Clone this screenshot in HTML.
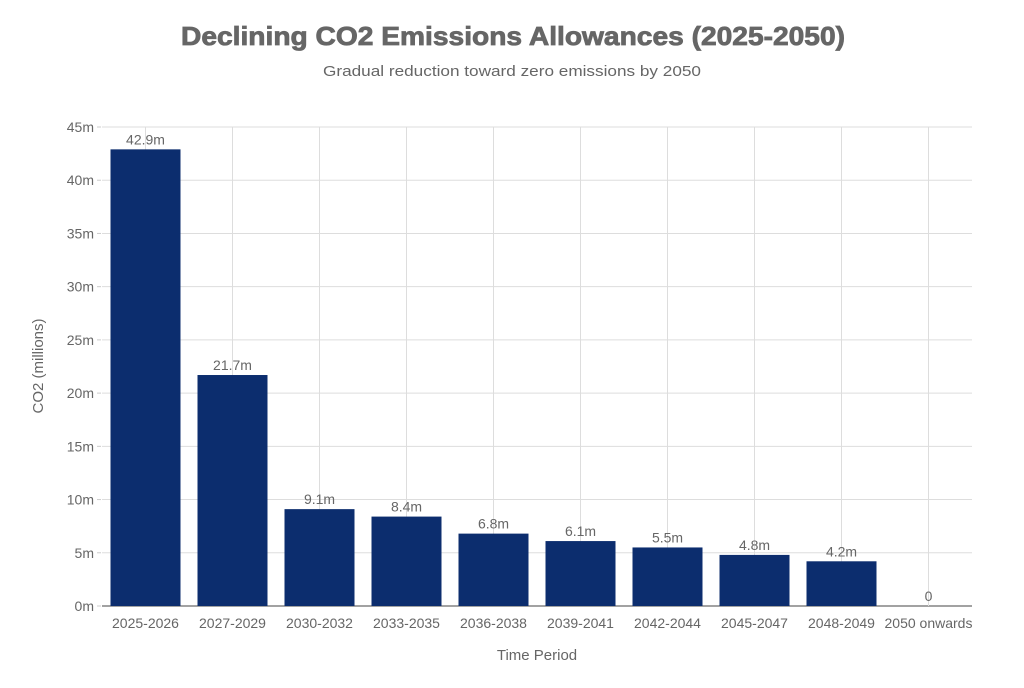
<!DOCTYPE html>
<html><head><meta charset="utf-8"><style>
body{margin:0;background:#fff;width:1024px;height:683px;overflow:hidden;font-family:"Liberation Sans",sans-serif}
</style></head><body>
<svg id="chart" width="1024" height="683">
<text x="181" y="45" textLength="664" lengthAdjust="spacingAndGlyphs" font-size="26" font-weight="900" fill="#666" stroke="#666" stroke-width="0.8">Declining CO2 Emissions Allowances (2025-2050)</text>
<text x="323" y="76" textLength="378" lengthAdjust="spacingAndGlyphs" font-size="15" fill="#666">Gradual reduction toward zero emissions by 2050</text>
<text x="0" y="0" transform="translate(43,366) rotate(-90)" text-anchor="middle" font-size="15" fill="#666">CO2 (millions)</text>
<text x="537" y="660" text-anchor="middle" font-size="15" fill="#666">Time Period</text>
<g id="grid"></g><g id="bars"></g><g id="labels"></g>
</svg>
<script>
const categories=["2025-2026","2027-2029","2030-2032","2033-2035","2036-2038","2039-2041","2042-2044","2045-2047","2048-2049","2050 onwards"];
const values=[42.9,21.7,9.1,8.4,6.8,6.1,5.5,4.8,4.2,0];
const valueLabels=["42.9m","21.7m","9.1m","8.4m","6.8m","6.1m","5.5m","4.8m","4.2m","0"];
const yTicks=[0,5,10,15,20,25,30,35,40,45];
const NS="http://www.w3.org/2000/svg";
const x0=102,x1=972,y0=606,y1=127,yMax=45;
const band=(x1-x0)/categories.length;
const xC=i=>x0+band*(i+0.5);
const y=v=>y0-(v/yMax)*(y0-y1);
function mk(t,a,p){const e=document.createElementNS(NS,t);for(const k in a)e.setAttribute(k,a[k]);p.appendChild(e);return e;}
const grid=document.getElementById('grid'),bars=document.getElementById('bars'),labels=document.getElementById('labels');
yTicks.forEach(v=>{
 const l=mk('line',{x1:x0,x2:x1,y1:y(v),y2:y(v),stroke:v===0?'#444':'#ddd','stroke-width':1},grid);
 
 
 const tk=mk('line',{x1:x0-5,x2:x0-1,y1:y(v),y2:y(v),stroke:'#ccc'},grid);
 
 
 const t=mk('text',{x:x0-8,y:y(v)+5,'text-anchor':'end','font-size':14,fill:'#666'},grid);
 t.textContent=v+'m';
 
 
});
categories.forEach((c,i)=>{
 const g=mk('line',{x1:xC(i),x2:xC(i),y1:y1,y2:y0,stroke:'#ddd'},grid);
 
 
 const w=70;
 const r=mk('rect',{x:xC(i)-w/2,y:y(values[i]),width:w,height:y0-y(values[i]),fill:'#0c2d6e'},bars);
 
 
 const vt=mk('text',{x:xC(i),y:y(values[i])-5,'text-anchor':'middle','font-size':14,fill:'#666'},labels);
 vt.textContent=valueLabels[i];
 
 
 const xt=mk('text',{x:xC(i),y:628,'text-anchor':'middle','font-size':14,fill:'#666'},labels);
 xt.textContent=c;
 
 
});
</script>
</body></html>
